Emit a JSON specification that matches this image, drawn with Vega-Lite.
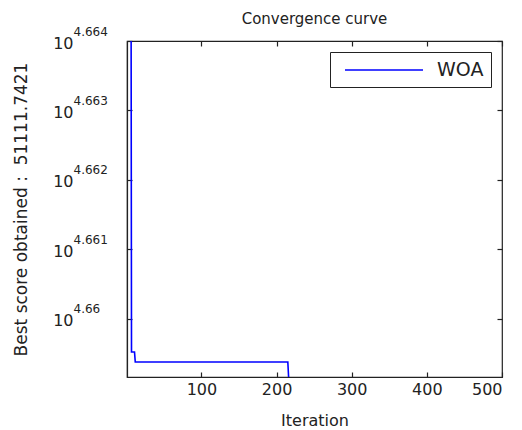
{
  "$schema": "https://vega.github.io/schema/vega-lite/v6.json",
  "width": 375,
  "height": 336,
  "autosize": "none",
  "padding": {"left": 127, "top": 41, "right": 20, "bottom": 53},
  "background": "white",
  "config": {
    "view": {"stroke": "#222", "strokeWidth": 1.2},
    "font": "DejaVu Sans",
    "axis": {"grid": false, "labelColor": "#222", "titleColor": "#222", "tickColor": "#222", "domainColor": "#222", "domainWidth": 1.2, "tickWidth": 1.2}
  },
  "title": {"text": "Convergence curve", "fontSize": 15, "fontWeight": "normal", "color": "#222", "offset": -2, "frame": "group"},
  "data": {"values": [
    {"iteration": 1, "score": 46600},
    {"iteration": 6, "score": 46600},
    {"iteration": 7, "score": 45658.8},
    {"iteration": 11, "score": 45658.8},
    {"iteration": 12, "score": 45643.7},
    {"iteration": 215, "score": 45643.7},
    {"iteration": 217, "score": 45600},
    {"iteration": 500, "score": 45600}
  ]},
  "layer": [
    {
      "mark": {"type": "line", "strokeWidth": 1.6, "clip": true},
      "encoding": {
        "x": {"field": "iteration", "type": "quantitative",
          "scale": {"domain": [1, 500], "nice": false, "zero": false},
          "axis": {"orient": "bottom", "values": [100, 200, 300, 400, 500], "tickSize": -5, "labelPadding": 9, "labelFontSize": 16, "title": "Iteration", "titleFontSize": 16, "titleFontWeight": "normal", "titlePadding": 15}},
        "y": {"field": "score", "type": "quantitative",
          "scale": {"type": "log", "domain": [45621.0, 46131.76], "nice": false, "zero": false},
          "axis": {"orient": "left", "values": [45708.82, 45814.19, 45919.80, 46025.65, 46131.76], "labelExpr": "'10'", "tickSize": -5, "labelPadding": 59, "labelFontSize": 16, "labelBaseline": "middle", "labelOffset": 2, "title": "Best score obtained\u00a0:\u00a0\u00a051111.7421", "titleFontSize": 17, "titleFontWeight": "normal", "titlePadding": 22}},
        "color": {"datum": "WOA", "type": "nominal", "scale": {"range": ["#0000ff"]},
          "legend": {"orient": "top-right", "offset": 11, "title": null, "symbolType": "M-3.9,0H3.9", "symbolSize": 400, "symbolOffset": 36, "symbolStrokeWidth": 1.5, "labelFontSize": 19, "labelColor": "#222", "strokeColor": "#222", "fillColor": "white", "padding": 7, "labelOffset": 42}}
      }
    },
    {
      "mark": {"type": "line", "strokeOpacity": 0, "clip": true},
      "encoding": {
        "x": {"field": "iteration", "type": "quantitative",
          "axis": {"orient": "top", "values": [100, 200, 300, 400, 500], "labels": false, "tickSize": -5, "domain": false, "title": null}},
        "y": {"field": "score", "type": "quantitative",
          "axis": {"orient": "left", "values": [45708.82, 45814.19, 45919.80, 46025.65, 46131.76], "labelExpr": "format(log(datum.value)/LN10, '.3~f')", "ticks": false, "domain": false, "labelAlign": "left", "labelPadding": 54, "labelFontSize": 12, "labelBaseline": "middle", "labelOffset": -10, "title": null}}
      }
    },
    {
      "mark": {"type": "line", "strokeOpacity": 0, "clip": true},
      "encoding": {
        "x": {"field": "iteration", "type": "quantitative", "axis": null},
        "y": {"field": "score", "type": "quantitative",
          "axis": {"orient": "right", "values": [45708.82, 45814.19, 45919.80, 46025.65, 46131.76], "labels": false, "tickSize": -5, "domain": false, "title": null}}
      }
    }
  ],
  "resolve": {"axis": {"x": "independent", "y": "independent"}}
}
